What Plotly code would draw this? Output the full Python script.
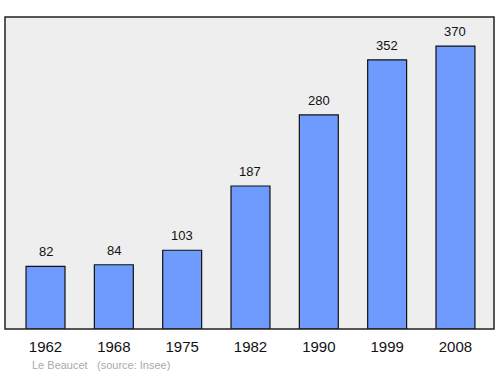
import plotly.graph_objects as go

years = ["1962", "1968", "1975", "1982", "1990", "1999", "2008"]
population = [82, 84, 103, 187, 280, 352, 370]
footer_place = "Le Beaucet"
footer_source = "(source: Insee)"

xpos = list(range(len(years)))

fig = go.Figure()
fig.add_trace(go.Bar(
    x=xpos, y=population, width=0.57,
    marker=dict(color="#6f9bff", line=dict(color="#111111", width=1.2)),
    hoverinfo="skip",
))
for xi, v in zip(xpos, population):
    fig.add_annotation(x=xi, y=v, text=str(v), showarrow=False,
                       yanchor="bottom", yshift=5,
                       font=dict(size=13, color="#111111"))

fig.add_shape(type="rect", xref="paper", yref="paper", x0=0, y0=0, x1=1, y1=1,
              line=dict(color="#222222", width=1.5), fillcolor="rgba(0,0,0,0)")

fig.add_annotation(xref="paper", yref="paper", x=(30-5)/489, y=-36/312, xanchor="left", yanchor="middle",
                   text=footer_place, showarrow=False, font=dict(size=11, color="#aaaaaa"))
fig.add_annotation(xref="paper", yref="paper", x=(95-5)/489, y=-36/312, xanchor="left", yanchor="middle",
                   text=footer_source, showarrow=False, font=dict(size=11, color="#aaaaaa"))

fig.update_layout(
    width=500, height=374,
    margin=dict(l=5, r=6, t=17, b=45),
    paper_bgcolor="white", plot_bgcolor="#eeeeee",
    font=dict(family="Liberation Sans, Arial, sans-serif", color="#111111"),
    showlegend=False,
    xaxis=dict(range=[-0.593, 6.564], tickmode="array", tickvals=xpos, ticktext=years,
               showgrid=False, zeroline=False, ticks="", tickfont=dict(size=15), ticklabelstandoff=7),
    yaxis=dict(range=[0, 408], showgrid=False, zeroline=False, showticklabels=False, ticks=""),
)
fig.write_html("out.html")
